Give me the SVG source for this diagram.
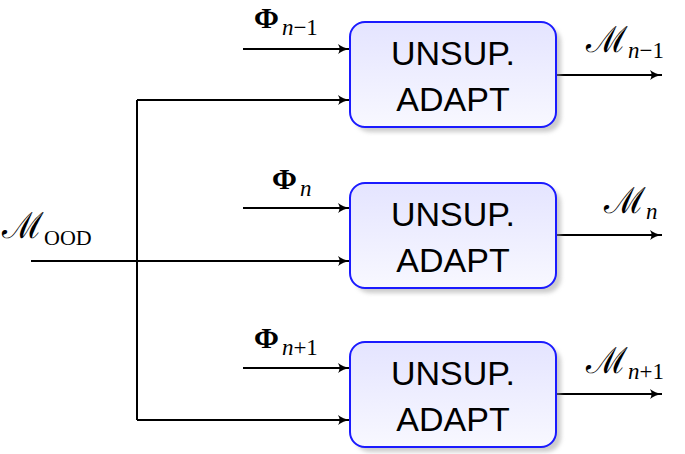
<svg xmlns="http://www.w3.org/2000/svg" width="685" height="454" viewBox="0 0 685 454">
<defs>
<linearGradient id="g" x1="0" y1="0" x2="0" y2="1">
<stop offset="0" stop-color="#e4e4ff"/>
<stop offset="1" stop-color="#f8f8ff"/>
</linearGradient>
<filter id="sh" x="-10%" y="-10%" width="130%" height="130%"><feGaussianBlur stdDeviation="2"/></filter>
<marker id="ah" viewBox="0 0 12 10" refX="12" refY="5" markerWidth="12" markerHeight="10" markerUnits="userSpaceOnUse" orient="auto">
<path d="M0,0 Q5,4 12,5 Q5,6 0,10 Q3,5 0,0 Z" fill="#000"/>
</marker>
<style>
.box{fill:url(#g);stroke:#1a1aff;stroke-width:2}
.shadow{fill:#999;opacity:0.5;filter:url(#sh)}
.bt{font-family:"Liberation Sans",Arial,sans-serif;font-size:34px;fill:#000;text-anchor:middle}
.ln{fill:none;stroke:#000;stroke-width:2}
.ar{fill:none;stroke:#000;stroke-width:2;marker-end:url(#ah)}
.m{font-family:"Liberation Serif","DejaVu Serif",serif;font-size:30px;fill:#000}
.sub{font-size:23px;font-style:italic}
.num{font-size:23px}
.phi{font-weight:bold}
.cal{font-family:"DejaVu Serif","Liberation Serif",serif;font-size:36px}
</style>
</defs>
<g id="connectors">
<path class="ar" d="M243,49 H350"/>
<path class="ar" d="M137,100 H350"/>
<path class="ar" d="M243,208 H350"/>
<path class="ar" d="M31,261 H350"/>
<path class="ar" d="M243,368 H350"/>
<path class="ar" d="M137,420 H350"/>
<path class="ln" d="M137,100 V420"/>
<path class="ar" d="M556,75 H662"/>
<path class="ar" d="M556,235 H662"/>
<path class="ar" d="M556,394 H662"/>
</g>
<g id="node1">
<rect class="shadow" x="355" y="27" width="206" height="105" rx="15"/>
<rect class="box" x="350" y="22" width="206" height="105" rx="15"/>
<text class="bt" x="453" y="65">UNSUP.</text>
<text class="bt" x="453" y="111">ADAPT</text>
</g>
<g id="node2">
<rect class="shadow" x="355" y="188" width="206" height="105" rx="15"/>
<rect class="box" x="350" y="183" width="206" height="105" rx="15"/>
<text class="bt" x="453" y="226">UNSUP.</text>
<text class="bt" x="453" y="272">ADAPT</text>
</g>
<g id="node3">
<rect class="shadow" x="355" y="347" width="206" height="105" rx="15"/>
<rect class="box" x="350" y="342" width="206" height="105" rx="15"/>
<text class="bt" x="453" y="385">UNSUP.</text>
<text class="bt" x="453" y="431">ADAPT</text>
</g>
<g id="labels">
<text class="m" x="254" y="28"><tspan class="phi">Φ</tspan><tspan class="sub" dx="3" dy="7">n</tspan><tspan class="num">−1</tspan></text>
<text class="m" x="272" y="189"><tspan class="phi">Φ</tspan><tspan class="sub" dx="3" dy="7">n</tspan></text>
<text class="m" x="254" y="348"><tspan class="phi">Φ</tspan><tspan class="sub" dx="3" dy="7">n</tspan><tspan class="num">+1</tspan></text>
<text class="m" x="586" y="52"><tspan class="cal">ℳ</tspan><tspan class="sub" dy="6">n</tspan><tspan class="num">−1</tspan></text>
<text class="m" x="604" y="213"><tspan class="cal">ℳ</tspan><tspan class="sub" dy="6">n</tspan></text>
<text class="m" x="586" y="373"><tspan class="cal">ℳ</tspan><tspan class="sub" dy="6">n</tspan><tspan class="num">+1</tspan></text>
<text class="m" x="2" y="238"><tspan class="cal">ℳ</tspan><tspan font-size="22" dx="0" dy="7">OOD</tspan></text>
</g>
</svg>
